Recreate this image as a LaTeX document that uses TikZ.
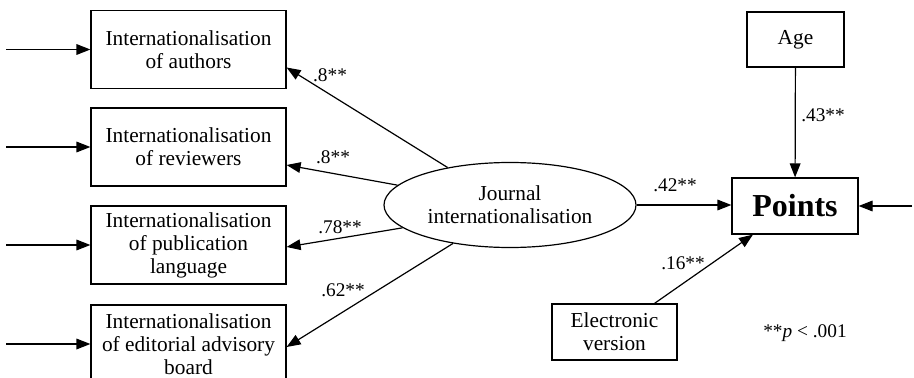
\documentclass[tikz,border=0pt]{standalone}
\usepackage{fontspec}
\setmainfont{Liberation Serif}
\usetikzlibrary{shapes.geometric, arrows.meta, calc}
\newcommand{\varfont}{\fontsize{16}{17.25}\selectfont}
\newcommand{\coeffont}{\fontsize{14.5}{16}\selectfont}
\newcommand{\pointsfont}{\fontsize{24}{26}\selectfont\bfseries}

\begin{document}
\begin{tikzpicture}[x=0.75pt, y=-0.75pt,
  every node/.style={font=\varfont},
  obs/.style={draw, line width=0.9pt, inner sep=0pt, align=center},
  item/.style={obs, minimum width=146.25pt, minimum height=58.5pt},
  path/.style={line width=0.9pt, -{Triangle[length=10.5pt,width=8pt]}},
  coef/.style={font=\coeffont}]
  \useasboundingbox (0,0) rectangle (914,378);

  % indicators
  \node[item] (auth) at (188.5,49.5) {Internationalisation\\of authors};
  \node[item] (rev) at (188.5,147) {Internationalisation\\of reviewers};
  \node[item] (lang) at (188.5,245) {Internationalisation\\of publication\\language};
  \node[item] (board) at (188.5,344) {Internationalisation\\of editorial advisory\\board};

  % error terms
  \foreach \n in {auth,rev,lang,board}{
    \coordinate (e-\n) at ($(\n.west)+(-84,0)$);
    \draw[path] (e-\n) -- (\n.west);
  }

  % latent variable
  \node[draw, ellipse, line width=0.9pt, minimum width=189pt, minimum height=63.75pt,
        inner sep=0pt, align=center] (ji) at (510,205) {Journal\\internationalisation};
  \draw[path] (ji.149) -- ($(auth.east)+(0,18)$);
  \draw[path] (ji.170) -- ($(rev.east)+(0,18)$);
  \draw[path] (ji.192) -- ($(lang.east)+(0,2)$);
  \draw[path] (ji.214) -- ($(board.east)+(0,3)$);
  \node[coef] (l-auth) at (330,75) {.8**};
  \node[coef] (l-rev) at (333,157) {.8**};
  \node[coef] (l-lang) at (340,227) {.78**};
  \node[coef] (l-board) at (343,290) {.62**};

  % outcome
  \node[obs, minimum width=72.75pt, minimum height=41.25pt] (age) at (795.5,39.5) {Age};
  \node[obs, minimum width=94.5pt, minimum height=42pt, font=\pointsfont] (pts) at (795,206) {Points};
  \node[obs, minimum width=93.75pt, minimum height=42pt] (ev) at (614.5,332) {Electronic\\version};
  \coordinate (e-pts) at (912,206);
  \draw[path] (age) -- (pts);
  \draw[path] (ji.east) -- (ji.east -| pts.west);
  \draw[path] (e-pts) -- (pts.east);
  \draw[path] ($(ev.north)+(40,0)$) -- ($(pts.south)+(-42,0)$);
  \node[coef] (l-age) at (823,115) {.43**};
  \node[coef] (l-ji) at (675,185) {.42**};
  \node[coef] (l-ev) at (683,263) {.16**};
  \node[coef] (note) at (805,333) {**\textit{p} < .001};
\end{tikzpicture}
\end{document}
